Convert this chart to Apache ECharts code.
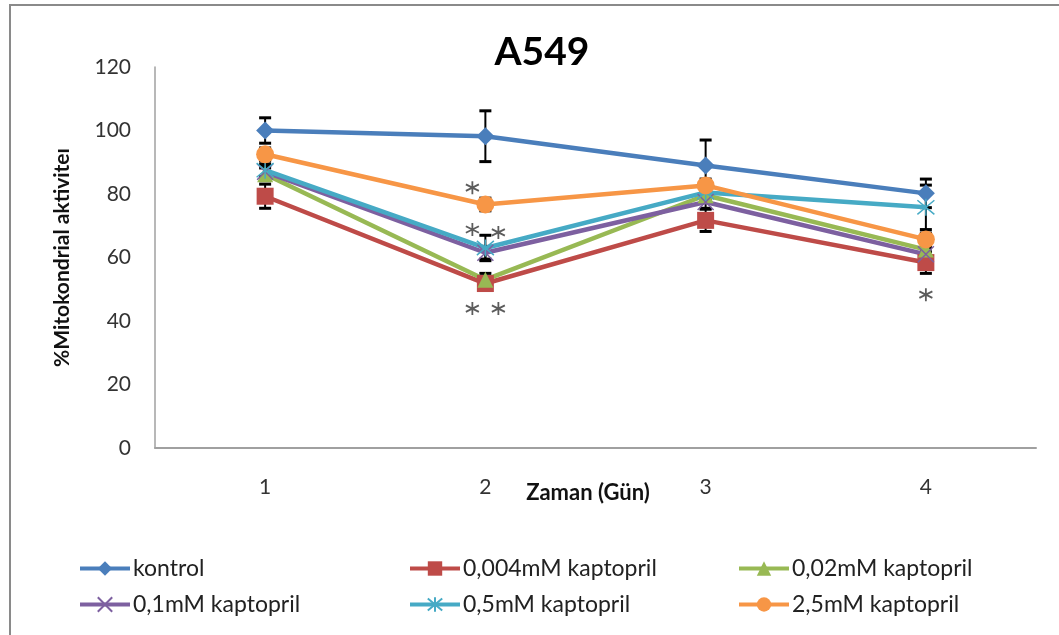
<!DOCTYPE html>
<html>
<head>
<meta charset="utf-8">
<script src="https://cdn.jsdelivr.net/npm/echarts@6/dist/echarts.min.js"></script>
<style>html,body{margin:0;padding:0;background:#fff;}#c{width:1059px;height:635px;}</style>
</head>
<body>
<div id="c"></div>
<script>
var days = ['1', '2', '3', '4'];
var names = ['kontrol', '0,004mM kaptopril', '0,02mM kaptopril', '0,1mM kaptopril', '0,5mM kaptopril', '2,5mM kaptopril'];
var kontrol = [100, 98.2, 89, 80.2];
var k004 = [79.3, 51.8, 71.7, 58.4];
var k02 = [86.2, 53, 79.6, 62.5];
var k01 = [87, 61.5, 77.5, 61];
var k05 = [87.5, 63, 80.5, 75.8];
var k25 = [92.5, 76.7, 82.7, 65.7];
var errKontrol = [4, 8, 8, 4.5];
var err004 = [3.8, 2, 3.5, 3.4];
var err02 = [2, 2, 2, 2];
var err01 = [2, 2, 2, 2];
var err05 = [2, 4, 2, 7];
var err25 = [2, 2, 2, 2];
// significance stars: [day index, value, side(-1 left, 0 center, 1 right)]
var stars = [[1, 82, -1], [1, 68.8, -1], [1, 67.9, 1], [1, 43.9, -1], [1, 43.9, 1], [3, 48.3, 0]];

var colors = ['#4a7ebb', '#be4b48', '#98b954', '#7d60a0', '#46aac5', '#f79646'];
var values = [kontrol, k004, k02, k01, k05, k25];
var errs = [errKontrol, err004, err02, err01, err05, err25];
var xPath = 'path://M0,0 L10,10 M0,10 L10,0';
var astPath = 'path://M0,0 L10,10 M0,10 L10,0 M5,-1 L5,11';
var starPath = 'path://M5,0 L5,10 M0.67,2.5 L9.33,7.5 M0.67,7.5 L9.33,2.5';
var symbols = ['diamond', 'rect', 'triangle', xPath, astPath, 'circle'];
var symSizes = [18, 17, 16, 16, 17, 18];
var FONT = 'Lato, "Open Sans", sans-serif';

var series = [];
values.forEach(function (v, i) {
  var e = errs[i];
  series.push({
    type: 'custom',
    silent: true,
    z: 1,
    renderItem: function (params, api) {
      var x = api.coord([api.value(0), api.value(1)])[0];
      var top = api.coord([api.value(0), api.value(1) + api.value(2)])[1];
      var bot = api.coord([api.value(0), api.value(1) - api.value(2)])[1];
      var w = 6;
      return {type: 'group', children: [
        {type: 'line', shape: {x1: x, y1: top, x2: x, y2: bot}, style: {stroke: '#000', lineWidth: 2}},
        {type: 'line', shape: {x1: x - w, y1: top, x2: x + w, y2: top}, style: {stroke: '#000', lineWidth: 3}},
        {type: 'line', shape: {x1: x - w, y1: bot, x2: x + w, y2: bot}, style: {stroke: '#000', lineWidth: 3}}
      ]};
    },
    data: v.map(function (y, j) { return [j, y, e[j]]; })
  });
});
values.forEach(function (v, i) {
  var outline = (i === 3 || i === 4);
  series.push({
    name: names[i],
    type: 'line',
    z: 3,
    data: v,
    symbol: symbols[i],
    symbolSize: symSizes[i],
    showAllSymbol: true,
    lineStyle: {color: colors[i], width: 4.5},
    itemStyle: outline ? {color: colors[i], borderColor: colors[i], borderWidth: 1.5} : {color: colors[i], borderColor: colors[i], borderWidth: 0},
    emphasis: {disabled: true}
  });
});
series.push({
  type: 'scatter',
  z: 5,
  silent: true,
  symbol: starPath,
  symbolSize: 13,
  itemStyle: {color: 'none', borderColor: '#333', borderWidth: 1.8},
  data: stars.map(function (s) {
    return {value: [s[0], s[1]], symbolOffset: [s[2] * 13, 0]};
  })
});

var legends = [];
var cols = [73, 403, 732];
var rows = [552, 588];
names.forEach(function (n, i) {
  legends.push({
    data: [n],
    left: cols[i % 3],
    top: rows[Math.floor(i / 3)],
    itemWidth: 50,
    itemHeight: 18,
    itemGap: 0,
    selectedMode: false,
    lineStyle: {width: 4},
    textStyle: {fontFamily: FONT, fontSize: 23, color: '#222', padding: [0, 0, 0, -2]}
  });
});

var chart = echarts.init(document.getElementById('c'), null, {renderer: 'canvas'});
chart.setOption({
  animation: false,
  backgroundColor: '#fff',
  title: {
    text: 'A549', left: 537, top: 28, textAlign: 'center',
    textStyle: {fontFamily: FONT, fontSize: 39, fontWeight: 'bold', color: '#000'}
  },
  graphic: [{
    type: 'rect', shape: {x: 10, y: 5, width: 1100, height: 700},
    style: {fill: 'none', stroke: '#8a8a8a', lineWidth: 2}, silent: true, z: 0
  }],
  legend: legends,
  grid: {left: 155, right: 23, top: 67, bottom: 187, containLabel: false},
  xAxis: {
    type: 'category', data: days, boundaryGap: true,
    name: 'Zaman (Gün)', nameLocation: 'middle', nameGap: 34, nameMoveOverlap: false,
    nameTextStyle: {fontFamily: FONT, fontSize: 22, fontWeight: 'bold', color: '#111', padding: [0, 15, 0, 0]},
    axisLine: {lineStyle: {color: '#a0a0a0', width: 2}},
    axisTick: {show: false},
    axisLabel: {fontFamily: FONT, fontSize: 21, color: '#333', margin: 29}
  },
  yAxis: {
    type: 'value', min: 0, max: 120, interval: 20,
    name: '%Mitokondrial aktiviteı', nameLocation: 'middle', nameGap: 82, nameRotate: 90, nameMoveOverlap: false,
    nameTextStyle: {fontFamily: FONT, fontSize: 21, fontWeight: 'bold', color: '#111'},
    axisLine: {show: true, lineStyle: {color: '#a0a0a0', width: 1.5}},
    axisTick: {show: false},
    splitLine: {show: false},
    axisLabel: {fontFamily: FONT, fontSize: 21, color: '#333', margin: 24}
  },
  series: series
});
</script>
</body>
</html>
